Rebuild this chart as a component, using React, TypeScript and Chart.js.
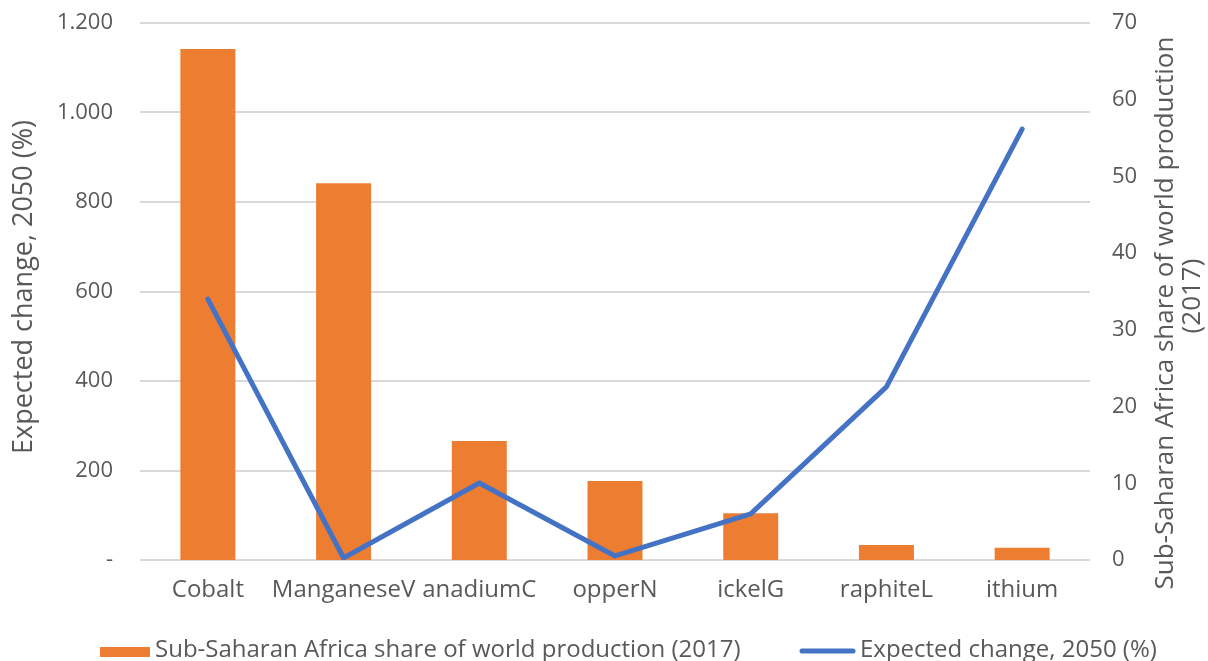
import React, { useEffect, useRef } from 'react';
import { Chart, registerables } from 'chart.js';
Chart.register(...registerables);

const categories = ['Cobalt', 'ManganeseV', 'anadiumC', 'opperN', 'ickelG', 'raphiteL', 'ithium'];
const shareValues = [66.6, 49.1, 15.5, 10.3, 6.1, 1.95, 1.6];
const changeValues = [583, 4.5, 172, 9, 103, 387, 963];
const shareLabel = 'Sub-Saharan Africa share of world production (2017)';
const changeLabel = 'Expected change, 2050 (%)';
const leftTitle = 'Expected change, 2050 (%)';
const rightTitle = ['Sub-Saharan Africa share of world production', '(2017)'];

const FONT = "'Open Sans', sans-serif";
const TEXT = '#595959';
const ORANGE = '#ED7D31';
const BLUE = '#4472C4';

const decorPlugin = {
  id: 'decor',
  afterDraw(chart: any) {
    const ctx = chart.ctx as CanvasRenderingContext2D;
    ctx.save();
    ctx.fillStyle = TEXT;
    ctx.textAlign = 'center';
    ctx.textBaseline = 'alphabetic';
    ctx.font = `27px ${FONT}`;
    const drawRot = (text: string, x: number, y: number) => {
      ctx.save();
      ctx.translate(x, y);
      ctx.rotate(-Math.PI / 2);
      ctx.fillText(text, 0, 0);
      ctx.restore();
    };
    drawRot(leftTitle, 32, 287);
    ctx.font = `26px ${FONT}`;
    drawRot(rightTitle[0], 1173, 313);
    drawRot(rightTitle[1], 1200, 296);

    // legend
    const ds = chart.data.datasets;
    const base = 657;
    ctx.font = `24px ${FONT}`;
    ctx.textAlign = 'left';
    ctx.fillStyle = ds[0].backgroundColor;
    ctx.fillRect(100, base - 10, 50, 10);
    ctx.fillStyle = TEXT;
    ctx.fillText(ds[0].label, 155, base);
    ctx.strokeStyle = ds[1].borderColor;
    ctx.lineWidth = 5;
    ctx.lineCap = 'round';
    ctx.beginPath();
    ctx.moveTo(802, base - 6);
    ctx.lineTo(853, base - 6);
    ctx.stroke();
    ctx.fillText(ds[1].label, 860, base);
    ctx.restore();
  },
};

export default function App() {
  const ref = useRef<HTMLCanvasElement>(null);
  useEffect(() => {
    if (!ref.current) return;
    const chart = new Chart(ref.current, {
      type: 'bar',
      data: {
        labels: categories,
        datasets: [
          {
            type: 'bar',
            label: shareLabel,
            data: shareValues,
            backgroundColor: ORANGE,
            borderWidth: 0,
            yAxisID: 'y1',
            order: 1,
            barPercentage: 0.405,
            categoryPercentage: 1,
          } as any,
          {
            type: 'line',
            label: changeLabel,
            data: changeValues,
            borderColor: BLUE,
            backgroundColor: BLUE,
            borderWidth: 5,
            borderCapStyle: 'round',
            borderJoinStyle: 'round',
            pointRadius: 0,
            yAxisID: 'y',
            order: 0,
            tension: 0,
          } as any,
        ],
      },
      options: {
        animation: false,
        responsive: false,
        maintainAspectRatio: false,
        layout: { padding: { left: 0, right: 0, top: 23, bottom: 51 } },
        plugins: {
          tooltip: { enabled: false },
          legend: { display: false },
        },
        scales: {
          x: {
            grid: { display: false },
            border: { display: false },
            afterFit: (s: any) => { s.height = 50; },
            ticks: {
              color: TEXT,
              font: { family: FONT, size: 24 },
              padding: 8,
              maxRotation: 0,
              minRotation: 0,
              autoSkip: false,
            },
          },
          y: {
            position: 'left',
            min: 0,
            max: 1200,
            border: { display: false },
            grid: { color: '#D9D9D9', lineWidth: 2, drawTicks: false },
            afterFit: (s: any) => { s.width = 140; s.paddingTop = 0; s.paddingBottom = 0; },
            ticks: {
              stepSize: 200,
              padding: 27,
              color: TEXT,
              font: { family: FONT, size: 22 },
              callback: (v: any) => (v === 0 ? '-' : Number(v).toLocaleString('de-DE')),
            },
          },
          y1: {
            position: 'right',
            min: 0,
            max: 70,
            border: { display: false },
            grid: { display: false, drawTicks: false },
            afterFit: (s: any) => { s.width = 118; s.paddingTop = 0; s.paddingBottom = 0; },
            ticks: { stepSize: 10, padding: 22, color: TEXT, font: { family: FONT, size: 22 } },
          },
        },
      },
      plugins: [decorPlugin],
    });
    return () => chart.destroy();
  }, []);
  return (
    <div style={{ position: 'fixed', left: 0, top: 0, width: 1208, height: 661, background: '#fff' }}>
      <canvas ref={ref} width={1208} height={661} />
    </div>
  );
}
